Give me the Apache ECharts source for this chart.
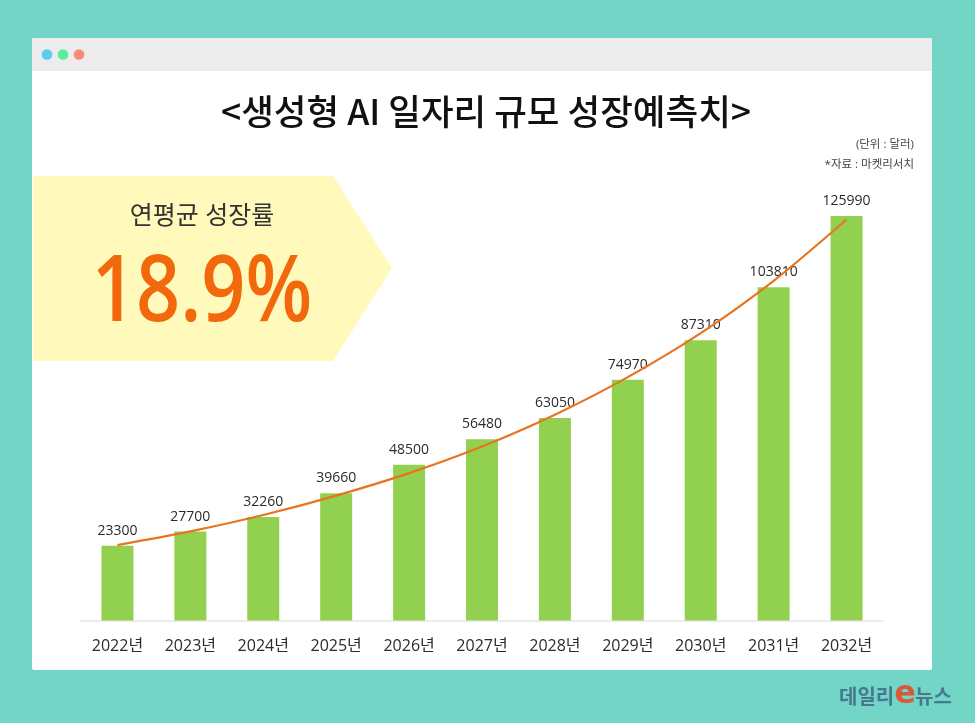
<!DOCTYPE html>
<html><head><meta charset="utf-8">
<style>html,body{margin:0;padding:0;background:#72d5c6}#c{width:975px;height:723px}</style>
<script src="https://cdn.jsdelivr.net/npm/echarts@6/dist/echarts.min.js"></script>
</head><body><div id="c"></div>
<script>
const categories = ['2022년','2023년','2024년','2025년','2026년','2027년','2028년','2029년','2030년','2031년','2032년'];
const jobValues = [23300,27700,32260,39660,48500,56480,63050,74970,87310,103810,125990];
const trendValues = [23500,27750,32850,38900,45900,54200,64100,75800,89500,105800,124900];
const titleText = '<생성형 AI 일자리 규모 성장예측치>';
const unitText = '(단위 : 달러)';
const sourceText = '*자료 : 마켓리서치';
const rateLabel = '연평균 성장률';
const rateValue = '18.9%';
const brandParts = ['데일리','e','뉴스'];
const font = '"Open Sans","Noto Sans CJK KR",sans-serif';
const titleFont = '"Noto Sans CJK KR",sans-serif';
const chart = echarts.init(document.getElementById('c'), null, {renderer:'canvas'});
chart.setOption({
  animation:false,
  backgroundColor:'#72d5c6',
  grid:{left:81,right:92,top:171,bottom:102.5,containLabel:false},
  xAxis:{type:'category',data:categories,
    axisLine:{lineStyle:{color:'#e6e6e6',width:1.5}},axisTick:{show:false},
    axisLabel:{color:'#2b2b2b',fontSize:16,fontFamily:font,margin:18}},
  yAxis:{type:'value',min:0,max:140000,show:false,splitLine:{show:false}},
  graphic:[
    {type:'rect',z:-10,shape:{x:32,y:38,width:900,height:632,r:2},style:{fill:'#ffffff'},silent:true},
    {type:'rect',z:-9,shape:{x:32,y:38,width:900,height:33,r:[2,2,0,0]},style:{fill:'#ececec'},silent:true},
    {type:'circle',z:-8,shape:{cx:47,cy:54.5,r:5.3},style:{fill:'#5dcbee'},silent:true},
    {type:'circle',z:-8,shape:{cx:63,cy:54.5,r:5.3},style:{fill:'#56ee9c'},silent:true},
    {type:'circle',z:-8,shape:{cx:79,cy:54.5,r:5.3},style:{fill:'#f98b74'},silent:true},
    {type:'polygon',z:-8,shape:{points:[[33,176],[333,176],[392,268],[333,361],[33,361]]},style:{fill:'#fffabb'},silent:true},
    {type:'text',z:5,style:{x:486,y:112,text:titleText,fill:'#111',font:'500 35.5px '+titleFont,textAlign:'center',textVerticalAlign:'middle'}},
    {type:'text',z:5,style:{x:914,y:145,text:unitText,fill:'#444',font:'11.5px '+font,textAlign:'right',textVerticalAlign:'middle'}},
    {type:'text',z:5,style:{x:914,y:164.5,text:sourceText,fill:'#444',font:'11.5px '+font,textAlign:'right',textVerticalAlign:'middle'}},
    {type:'text',z:5,style:{x:202,y:217,text:rateLabel,fill:'#333',font:'25px '+font,textAlign:'center',textVerticalAlign:'middle'}},
    {type:'text',z:5,x:202,y:295,scaleX:0.84,style:{x:0,y:0,text:rateValue,fill:'#f2690d',font:'600 92px '+font,textAlign:'center',textVerticalAlign:'middle'}},
    {type:'text',z:5,style:{x:839,y:698,text:brandParts[0],fill:'#46788f',font:'700 20px '+font,textAlign:'left',textVerticalAlign:'middle'}},
    {type:'text',z:5,style:{x:905,y:695,text:brandParts[1],fill:'#d9583a',font:'800 32px "DejaVu Sans",sans-serif',textAlign:'center',textVerticalAlign:'middle'}},
    {type:'text',z:5,style:{x:915,y:698,text:brandParts[2],fill:'#46788f',font:'700 20px '+font,textAlign:'left',textVerticalAlign:'middle'}}
  ],
  series:[
    {type:'bar',data:jobValues,barWidth:32,itemStyle:{color:'#92d14f'},z:2,
     label:{show:true,position:'top',distance:8,color:'#2b2b2b',fontSize:14,fontFamily:font}},
    {type:'line',data:trendValues,smooth:0.3,symbol:'none',z:3,
     lineStyle:{color:'#e8741f',width:2.2}}
  ]
});
</script></body></html>
